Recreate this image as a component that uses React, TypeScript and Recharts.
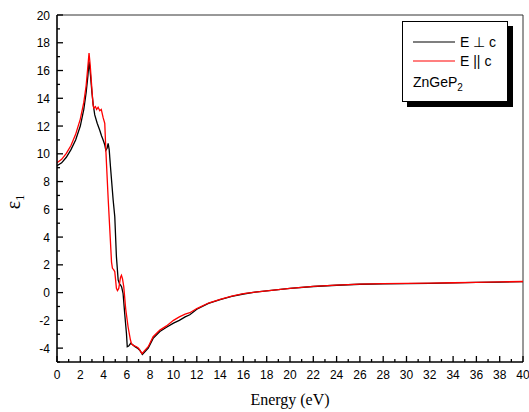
import React from 'react';
import { LineChart, Line, XAxis, YAxis, ReferenceLine, Legend } from 'recharts';

// E perpendicular to c (black)
const perpX = [0, 0.4, 0.8, 1.2, 1.6, 2.0, 2.3, 2.5, 2.65, 2.75, 2.85, 3.0, 3.1, 3.24, 3.45, 3.67, 3.82, 3.96, 4.1, 4.19, 4.3, 4.39, 4.48, 4.59, 4.82, 4.96, 5.1, 5.25, 5.38, 5.45, 5.55, 5.67, 5.82, 5.96, 6.03, 6.15, 6.33, 6.5, 6.7, 6.9, 7.1, 7.33, 7.5, 7.83, 8.25, 8.83, 9.4, 10.0, 10.5, 11, 11.4, 12, 13, 14, 15, 16, 17, 18, 20, 22, 24, 26, 28, 30, 32, 34, 36, 38, 40];
const perpY = [9.14, 9.35, 9.75, 10.3, 11.0, 12.0, 13.2, 14.4, 15.6, 16.65, 15.9, 14.4, 13.6, 12.8, 12.2, 11.7, 11.3, 11.0, 10.65, 10.25, 10.4, 10.75, 10.3, 9.07, 6.67, 5.47, 2.59, 0.91, 0.6, 0.55, 0.4, -0.05, -1.6, -2.93, -3.9, -3.85, -3.65, -3.75, -3.9, -4.0, -4.15, -4.45, -4.3, -4.0, -3.3, -2.8, -2.5, -2.2, -2.0, -1.75, -1.6, -1.2, -0.78, -0.5, -0.27, -0.1, 0.03, 0.12, 0.3, 0.44, 0.53, 0.6, 0.63, 0.65, 0.67, 0.7, 0.73, 0.76, 0.79];

// E parallel to c (red)
const parX = [0, 0.4, 0.8, 1.2, 1.6, 2.0, 2.3, 2.5, 2.65, 2.75, 2.85, 3.0, 3.1, 3.16, 3.3, 3.4, 3.53, 3.67, 3.8, 3.96, 4.1, 4.19, 4.39, 4.68, 4.76, 4.86, 4.96, 5.1, 5.19, 5.3, 5.45, 5.53, 5.62, 5.73, 5.9, 6.1, 6.3, 6.4, 6.55, 6.83, 7.0, 7.15, 7.3, 7.5, 7.83, 8.25, 8.83, 9.4, 10.0, 10.5, 11, 11.4, 12, 13, 14, 15, 16, 17, 18, 20, 22, 24, 26, 28, 30, 32, 34, 36, 38, 40];
const parY = [9.36, 9.6, 10.03, 10.6, 11.4, 12.5, 13.7, 14.9, 16.3, 17.25, 16.4, 14.6, 13.5, 13.28, 13.4, 13.2, 13.35, 13.1, 13.2, 12.6, 12.2, 10.3, 6.8, 2.2, 1.75, 1.65, 1.5, 0.31, 0.14, 0.3, 1.1, 1.25, 1.0, 0.43, -1.2, -2.46, -3.4, -3.7, -3.8, -3.9, -4.0, -4.2, -4.4, -4.2, -3.9, -3.18, -2.7, -2.4, -2.0, -1.75, -1.55, -1.45, -1.15, -0.75, -0.48, -0.25, -0.08, 0.04, 0.13, 0.31, 0.45, 0.54, 0.61, 0.64, 0.66, 0.68, 0.71, 0.74, 0.77, 0.8];

const seriesNames = ['E ⊥ c', 'E || c'];
const seriesColors = ['#000000', '#ff0000'];

const xTicks = Array.from({ length: 41 }, (_, i) => i);
const yTicks = Array.from({ length: 26 }, (_, i) => i - 5);

const perpData = perpX.map((x, i) => ({ x, y: perpY[i] }));
const parData = parX.map((x, i) => ({ x, y: parY[i] }));

const SANS = '"Liberation Sans", Arial, sans-serif';
const SERIF = '"Liberation Serif", "Times New Roman", serif';

function XTick(props: any) {
  const { x, y, payload } = props;
  const v = payload.value;
  const major = v % 2 === 0;
  return (
    <g>
      <line x1={x} x2={x} y1={y} y2={y - (major ? 6 : 3)} stroke="#000" strokeWidth={1.3} />
      {major && (
        <text x={x} y={y + 17} textAnchor="middle" fontSize={12} fontFamily={SANS} fill="#000">
          {v}
        </text>
      )}
    </g>
  );
}

function YTick(props: any) {
  const { x, y, payload } = props;
  const v = payload.value;
  const major = v % 2 === 0;
  return (
    <g>
      <line x1={x} x2={x + (major ? 6 : 3)} y1={y} y2={y} stroke="#000" strokeWidth={1.3} />
      {major && (
        <text x={x - 7} y={y + 4.5} textAnchor="end" fontSize={12} fontFamily={SANS} fill="#000">
          {v}
        </text>
      )}
    </g>
  );
}

function LegendBox(props: any) {
  const names = (props.payload || []).map((it: any) => it.value);
  const items = seriesNames.filter((n) => names.includes(n));
  return (
    <div
      style={{
        position: 'relative',
        width: 106,
        height: 81,
        border: '1px solid #000',
        background: '#fff',
        boxShadow: '5px 5px 0 #000',
        fontFamily: SANS,
        fontSize: 14,
        color: '#000',
        boxSizing: 'border-box',
      }}
    >
      {items.map((name: string, i: number) => (
        <div key={name} style={{ position: 'absolute', left: 10, top: 11 + i * 19, height: 18, display: 'flex', alignItems: 'center' }}>
          <svg width={42} height={4} style={{ marginRight: 5 }}>
            <line x1={0} x2={42} y1={2} y2={2} stroke={seriesColors[seriesNames.indexOf(name)]} strokeWidth={1.2} />
          </svg>
          <span>{name}</span>
        </div>
      ))}
      <div style={{ position: 'absolute', left: 10, top: 52 }}>
        ZnGeP<sub style={{ fontSize: 10 }}>2</sub>
      </div>
    </div>
  );
}

export default function App() {
  return (
    <div style={{ position: 'absolute', left: 0, top: 0, background: '#fff' }}>
      <LineChart width={529} height={412} margin={{ top: 15, right: 6, left: 0, bottom: 0 }}>
        <XAxis
          type="number"
          dataKey="x"
          domain={[0, 40]}
          ticks={xTicks}
          interval={0}
          height={50}
          tickSize={0}
          tickMargin={0}
          tickLine={false}
          tick={<XTick />}
          axisLine={{ stroke: '#000', strokeWidth: 1.6 }}
          allowDataOverflow
          label={{
            content: () => (
              <text x={290} y={405} textAnchor="middle" fontSize={16} fontFamily={SERIF} fill="#000">
                Energy (eV)
              </text>
            ),
          }}
        />
        <YAxis
          type="number"
          dataKey="y"
          domain={[-5, 20]}
          ticks={yTicks}
          interval={0}
          width={57}
          tickSize={0}
          tickMargin={0}
          tickLine={false}
          tick={<YTick />}
          axisLine={{ stroke: '#000', strokeWidth: 1.6 }}
          allowDataOverflow
          label={{
            content: () => (
              <text transform="translate(20,202) rotate(-90)" textAnchor="middle" fontSize={20} fontFamily={SERIF} fill="#000">
                ε<tspan fontSize={12} dy={4}>1</tspan>
              </text>
            ),
          }}
        />
        <ReferenceLine y={20} stroke="#333" strokeWidth={1} />
        <ReferenceLine x={40} stroke="#333" strokeWidth={1} />
        <Line data={perpData} dataKey="y" name={seriesNames[0]} type="linear" stroke={seriesColors[0]} strokeWidth={1.3} dot={false} isAnimationActive={false} />
        <Line data={parData} dataKey="y" name={seriesNames[1]} type="linear" stroke={seriesColors[1]} strokeWidth={1.3} dot={false} isAnimationActive={false} />
        <Legend
          layout="vertical"
          align="center"
          verticalAlign="middle"
          wrapperStyle={{ left: 402, top: 21, width: 112 }}
          content={<LegendBox />}
        />
      </LineChart>
    </div>
  );
}
